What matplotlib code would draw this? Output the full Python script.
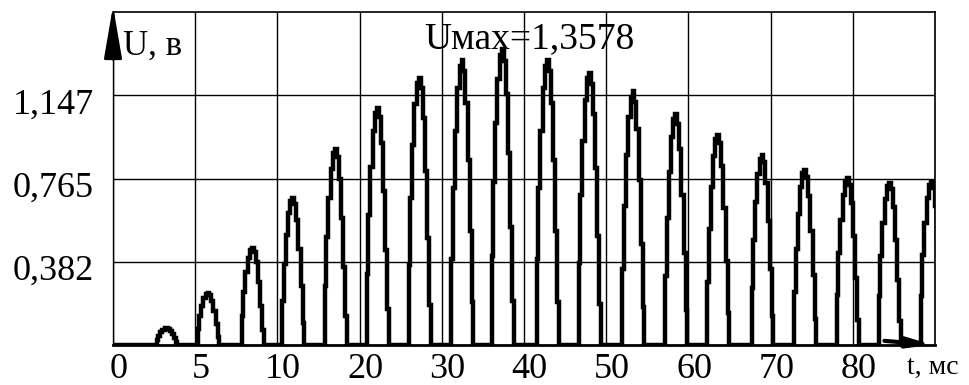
import numpy as np
import matplotlib.pyplot as plt
import matplotlib.transforms as mtransforms

# data
peak_t = [6.6, 11.6, 17.0, 21.9, 27.1, 32.2, 37.3, 42.5, 47.4, 52.9,
          58.0, 63.3, 68.5, 73.6, 79.0, 84.2, 89.4, 94.5, 99.6]
peak_u = [0.078, 0.24, 0.446, 0.676, 0.90, 1.09, 1.228, 1.31, 1.358, 1.31,
          1.25, 1.165, 1.06, 0.966, 0.874, 0.805, 0.768, 0.745, 0.75]
half_w = [1.3, 1.35, 1.4, 1.4, 1.4, 1.4, 1.4, 1.4, 1.4, 1.4,
          1.4, 1.4, 1.4, 1.4, 1.4, 1.4, 1.4, 1.4, 1.4]

# one pulse outline (relative time, fraction of peak), read from a pulse
prof_rel = [-1.0, -0.9, -0.75, -0.55, -0.35, -0.15, 0.0, 0.15, 0.35, 0.55, 0.75, 0.9, 1.0]
prof_frac = [0.0, 0.3, 0.55, 0.75, 0.9, 0.98, 1.0, 0.96, 0.85, 0.65, 0.4, 0.15, 0.0]

xtick_pos = [0, 10, 20, 30, 40, 50, 60, 70, 80, 90, 100]
xtick_lab = ["0", "5", "10", "20", "30", "40", "50", "60", "70", "80", "t, мс"]
ytick_pos = [0.3825, 0.765, 1.1475]
ytick_lab = ["0,382", "0,765", "1,147"]
umax_txt = "Uмах=1,3578"

plt.rcParams['font.family'] = ['Liberation Serif', 'DejaVu Serif']

# build the trace: baseline + pulses
t = [0.0]
u = [0.0]
for tp, up, hw in zip(peak_t, peak_u, half_w):
    t += [tp + r * hw for r in prof_rel]
    u += [up * f for f in prof_frac]
t.append(101.0)
u.append(0.0)

fig = plt.figure(figsize=(9.7, 3.85), dpi=100)
ax = fig.add_axes([0.1165, 0.1039, 0.8475, 0.8649])

ax.plot(t, u, color="black", lw=3.2, drawstyle="steps-mid", solid_joinstyle="miter")

ax.set_xlim(0, 100)
ax.set_ylim(0, 1.53)
ax.set_xticks(xtick_pos)
ax.set_xticklabels(xtick_lab)
ax.set_yticks(ytick_pos)
ax.set_yticklabels(ytick_lab)
ax.tick_params(length=0, labelsize=26, pad=4)
ax.tick_params(axis="y", pad=14)
ax.grid(True, color="black", lw=1.0)

# labels sit a little lower than the grid lines
shift = mtransforms.ScaledTranslation(0, -4 / 72, fig.dpi_scale_trans)
for lab in ax.get_yticklabels():
    lab.set_transform(lab.get_transform() + shift)
shift_x = mtransforms.ScaledTranslation(4 / 72, -2 / 72, fig.dpi_scale_trans)
xlabs = ax.get_xticklabels()
for lab in xlabs[:-1]:
    lab.set_transform(lab.get_transform() + shift_x)
# the unit label at the end of the axis is smaller
xlabs[-1].set_fontsize(20)
xlabs[-1].set_transform(xlabs[-1].get_transform()
                        + mtransforms.ScaledTranslation(-2 / 72, -3 / 72, fig.dpi_scale_trans))

for s in ["top", "right"]:
    ax.spines[s].set_linewidth(1.2)
ax.spines["left"].set_linewidth(1.0)
ax.spines["bottom"].set_linewidth(2.0)

# axis arrows
ax.annotate("", xy=(0, 1.57), xytext=(0, 1.30),
            arrowprops=dict(arrowstyle="-|>,head_length=3.2,head_width=0.55",
                            color="black", lw=2),
            annotation_clip=False)
ax.annotate("", xy=(100, 0.0), xytext=(93.5, 0.02),
            arrowprops=dict(arrowstyle="-|>,head_length=1.4,head_width=0.3",
                            color="black", lw=3),
            annotation_clip=False)

ax.text(0.012, 0.871, "U, в", transform=ax.transAxes, fontsize=25,
        ha="left", va="baseline")
ax.text(0.506, 0.892, umax_txt, transform=ax.transAxes, fontsize=27,
        ha="center", va="baseline")

plt.savefig("out.png", dpi=100)
plt.close(fig)
